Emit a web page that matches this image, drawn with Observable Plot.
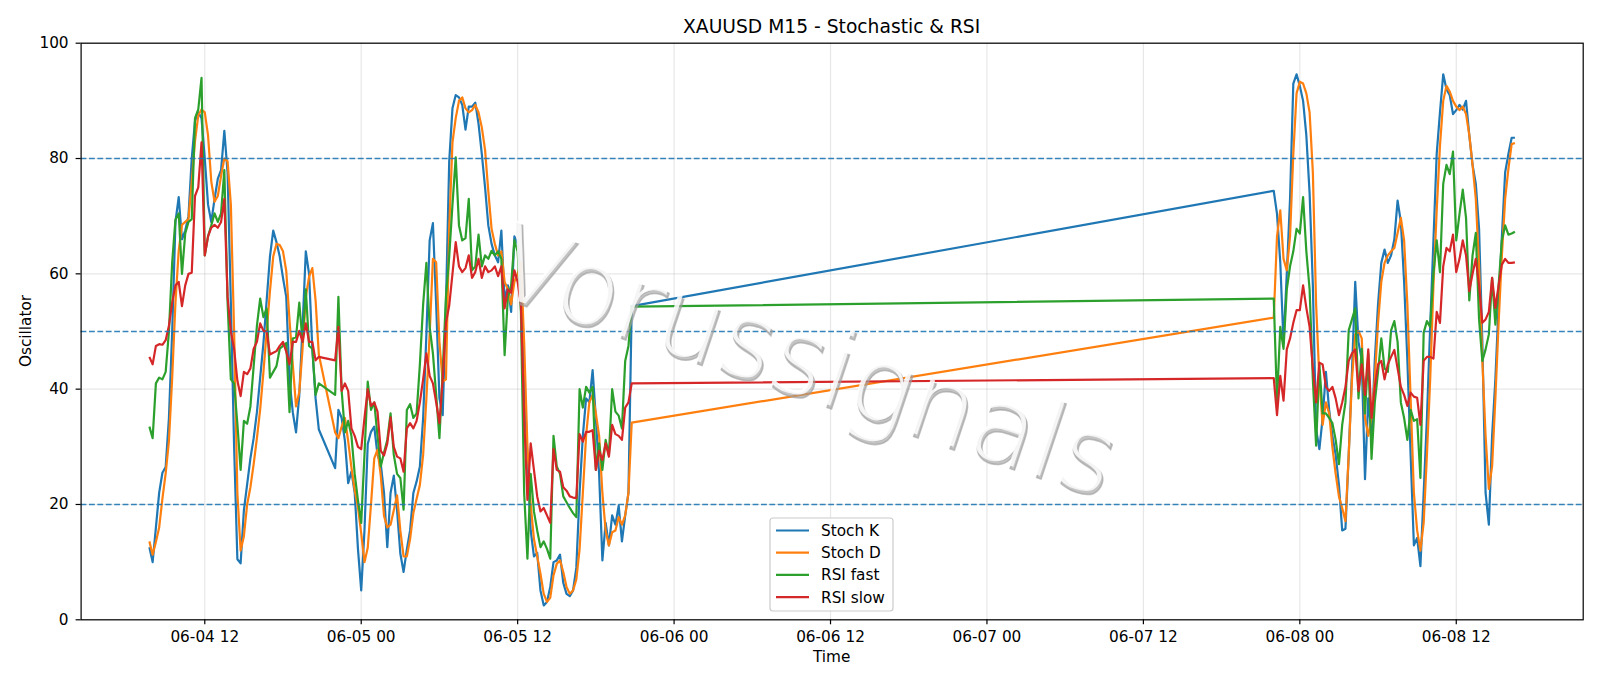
<!DOCTYPE html>
<html>
<head>
<meta charset="utf-8">
<script src="https://cdn.jsdelivr.net/npm/d3@7"></script>
<script src="https://cdn.jsdelivr.net/npm/@observablehq/plot@0.6"></script>
<style>
  html, body { margin: 0; padding: 0; background: #ffffff; }
  #chart { width: 1600px; height: 686px; }
  #chart svg { display: block; }
</style>
</head>
<body>
<div id="chart"></div>
<script>
// ---------- DATA ----------
const chartTitle = "XAUUSD M15 - Stochastic & RSI";
const xLabel = "Time";
const yLabel = "Oscillator";
const watermarkText = "Vorussignals";

const seriesNames = ["Stoch K", "Stoch D", "RSI fast", "RSI slow"];
const seriesColors = ["#1f77b4", "#ff7f0e", "#2ca02c", "#d62728"];

// M15 bars: three runs of consecutive 15-minute bars (UTC)
const segmentStarts = ["2025-06-04T07:45:00Z", "2025-06-04T22:00:00Z", "2025-06-07T22:00:00Z"];
const segmentCounts = [53, 92, 75];

const stochK = [
  // run 1
  12.6,10,16,22,25.5,26.5,35,50,69,73.3, 66,67.5,70,80,86.5,88,87,80,72,69,
  73,76.5,78,84.8,77.5,55,30,10.5,9.8,19, 23.5,28,31.5,36,42,48,55.5,63,67.5,65.5,
  63,59.3,56,41.7,36,32.5,39,50.8,63.9,60, 47,38.4,33,
  // run 2
  26.3,36.4,35,31,23.7,25.7,22,12.3,5.1,15.5, 30.5,32.6,33.5,28.6,27,22,12.6,22,25,19,
  11.5,8.3,12.2,15.5,22,24,26.6,35,49.5,65.8, 68.8,54.7,38.4,35.5,54.7,79.5,88.7,91,90.6,89.3,
  85,89,89,89.7,86,80.8,75,68.4,65.2,63.2, 62,67.5,55.4,58,53.4,66.5,65.2,60,41.7,28.6,
  15.5,11,11.6,5.1,2.5,3.1,5.7,10,10.3,11.3, 6.4,4.5,4.1,5.1,9,22,31.9,38.4,37.7,43.3,
  35,25.3,10.3,16.8,12.9,18.1,16.5,19.8,13.6,18.1, 22,54.4,
  // run 3
  74.4,70.4,62,48,60,73,93,94.6,92.6,90, 84,74,58,33,29.6,35,43,36.4,31.9,28.6,
  23.4,15.5,15.8,28.6,43,58.6,48.2,45,24.4,38.4, 31.9,45,54.7,61.9,64.2,61.9,63.2,66,72.7,69,
  58.6,45,28.6,12.9,14.2,9.3,22,35,50.8,65.8, 80.8,88,94.6,92,91,87.7,88.4,89.3,88.5,90,
  84,78.9,75.6,67.8,48.2,22,16.5,31.9,41.7,54.7, 66.5,77.6,80.8,83.6,83.6
];

const stochD = [
  // run 1
  13.6,11.3,13.5,16,21,25.4,31,42,55,64, 68.5,69,69.5,76,83,87.5,88.5,88,84,76,
  72.5,73.5,77,80,79.5,72,50,22,12,14.5, 20,23,27,31.5,36.5,43,50,57,63,65.2,
  65,63.9,60.5,52,44.3,37,39.5,47,56,59.5, 61,55.4,46,
  // run 2
  32.5,31.5,33.5,35,31,26.4,22.5,19.5,15,10, 12.5,20,28,29.5,25,18,16,16.5,19,21.6,
  15.5,11,11,14,18.5,21,23.4,28.6,38.4,49.5, 62.6,62,48.2,41.3,41.7,67.8,82.8,87,90,90.6,
  88.7,88,88.4,89.3,88,85.4,81.5,74.3,67.8,65.2, 63.2,63.9,58.6,57.3,54.7,58.6,60,62,48,30,
  20,14,11,8,4.5,3.1,3.8,7.7,9.7,10.3, 8.3,5.7,4.5,5.1,7,12.2,22,31.9,37.7,39,
  35.8,31.9,22,15.5,12.9,15.2,15.5,17.8,16.5,18.1, 22,34.2,
  // run 3
  52.4,66.5,71,62.6,60.6,66.5,80.8,91.3,93.3,93, 91.3,88,77.6,54.7,41.7,33.8,37.7,35.8,29.9,25.3,
  21.4,19.4,17.1,28.6,41.7,49.5,50.1,48.8,35,31.9, 35,41.7,51.5,58.6,61.9,63.2,63.9,64.5,67.1,69.7,
  65.8,54.7,38.4,22,15.5,12,16.8,28.6,41.7,58, 71,82.2,90,92.6,91.6,90,89,88.4,89,87.7,
  84.1,78.9,73,61.3,45,31.9,22.7,26.6,38.4,51.5, 63.2,73,78.2,82.5,82.7
];

const rsiFast = [
  // run 1
  33.5,31.5,41,42,41.7,43,50,62,69.4,70.5, 60,67,69,69.5,87,88.5,94,63.2,66.5,68.4,
  70.5,69,70.5,78,55,41.7,41,34,26,34.5, 34,37,44,51,55.7,52.5,54,42,43,44,
  47,47.5,48,36,48.8,49,55,48.2,57.3,47.5, 47,39,41,
  // run 2
  39,56,39.7,32.5,34.5,31.9,25.3,20.7,16.8,28.6, 41.3,36.4,37.7,31.9,26.6,29,31.2,35.8,28.6,25.3,
  24.6,19.1,36.4,37.4,35,35.8,44.3,54.7,61.9,50.8, 46.2,39,31.5,43,56,63,72,80.2,68.4,65.8,
  66.2,73,60.6,61.3,66.8,61.3,63.2,62.6,64,63.2, 63.9,62.6,45.9,56,58,65.8,63.9,53.4,22,10.6,
  25.3,18.8,15.5,12.6,13.6,12.3,10.6,31.9,26.6,25.3, 21.4,20.4,19.4,18.5,17.8,40,36.8,40.4,39.4,40.4,
  26,30.6,26,31.2,28.6,40,36.1,35.4,33.2,44.9, 47.5,54.3,
  // run 3
  55.7,38,50.8,47,57.3,61.3,63.9,67.8,67,73.3, 63.9,57.3,41.7,30.2,44.3,35.8,35.8,35,34.1,31.2,
  27,33.8,37.7,50.2,52.1,54,38.4,47,35.8,46.2, 27.9,37.7,43,48.8,43.6,43,50.2,51.8,48.2,37.7,
  35,31.2,36.4,34.5,34.8,24.6,49.8,51.8,50.8,60, 65.8,60.3,75.6,78.9,77.3,81.2,65.8,70.4,74.6,69.7,
  55.4,63.2,67.1,52.1,44.9,46.9,49.5,59.3,51.2,58, 65.8,68.4,66.8,67,67.3
];

const rsiSlow = [
  // run 1
  45.6,44.3,47.5,47.8,47.7,48.5,51,55,58,58.6, 54.4,58,60,60.2,73.5,75,82.8,63.2,66.5,68,
  68.5,68,69,73,56,50,47,41.5,38.8,43, 42.6,43.6,47,48.2,51.4,50.1,50,46,46.3,46.6,
  47.5,48.2,46.5,44.3,48.2,48.2,50.1,48.2,51.4,48.2, 48.2,45,45.6,
  // run 2
  45,50.8,39.7,41,39.7,33.2,31.9,30,29.6,35, 40,37.1,37.7,36.1,29.3,28.5,30.6,35.1,30,28.3,
  28,25.7,33.2,34.1,33.2,34.5,37.7,41.7,46.2,42.3, 41,37.7,34.1,41.7,51.5,54.5,60,65.5,61.3,60.3,
  61,63.2,59.3,60.3,62.6,59.3,61.3,60.3,60.6,61.3, 59.6,61.3,54,57.3,56.7,60.6,58.6,54.7,35,20.8,
  30.6,26,21.4,18.8,19.4,18.1,16.8,29.6,26,25.7, 23,22.4,21.4,21.2,21.1,32.2,30.9,32.6,32.6,32.9,
  26,29.3,27.7,30.6,28.3,33.8,32.2,31.9,31.2,36.8, 37.7,41,
  // run 3
  41.9,35.5,42.3,38,46.9,48.8,51.5,53.7,53.7,58, 54.1,50.8,43.6,37.7,44.6,44.3,40.4,39.7,40.4,38.4,
  35.5,37.7,40.4,44.9,46.2,46.9,39.7,44.3,39,46.9, 35,40.4,44.3,44.9,41.7,44.3,45.6,46.8,43.6,40.4,
  39,37.1,39.4,38.7,38.5,33.8,44.9,45.6,45.6,45.3, 53.4,51.5,61.3,64.5,63.9,66.8,60.3,62.6,65.8,63.2,
  57,60,62.6,58,51.5,52.1,53.4,59.3,54.1,58, 61.6,62.6,61.9,61.9,62
];

const referenceLevels = [20, 50, 80];
const yTicks = [0, 20, 40, 60, 80, 100];

// ---------- BUILD TABLE ----------
const times = [];
segmentStarts.forEach((s, i) => {
  const t0 = new Date(s).getTime();
  for (let k = 0; k < segmentCounts[i]; k++) times.push(new Date(t0 + k * 15 * 60000));
});
const seriesValues = [stochK, stochD, rsiFast, rsiSlow];
const rows = [];
seriesValues.forEach((vals, si) => {
  vals.forEach((v, i) => rows.push({ series: seriesNames[si], time: times[i], value: v }));
});

const tMin = d3.min(times), tMax = d3.max(times);
const pad = (tMax - tMin) * 0.05;
const xDomain = [new Date(+tMin - pad), new Date(+tMax + pad)];
const xTicks = d3.utcHour.every(12).range(xDomain[0], xDomain[1]);

const W = 1600, H = 686;
const mL = 80.6, mR = 17.3, mT = 42.7, mB = 66.7;
const FONT = "DejaVu Sans, Liberation Sans, sans-serif";
const gridColor = "#b0b0b0";

const chart = Plot.plot({
  width: W,
  height: H,
  marginLeft: mL,
  marginRight: mR,
  marginTop: mT,
  marginBottom: mB,
  style: { fontFamily: FONT, fontSize: "15.3px", background: "#ffffff", color: "#000000", overflow: "visible" },
  x: { type: "utc", domain: xDomain },
  y: { domain: [0, 100] },
  color: { domain: seriesNames, range: seriesColors },
  marks: [
    Plot.gridX(xTicks, { stroke: gridColor, strokeOpacity: 0.3, strokeWidth: 1.2 }),
    Plot.gridY(yTicks, { stroke: gridColor, strokeOpacity: 0.3, strokeWidth: 1.2 }),
    Plot.line(rows, { x: "time", y: "value", z: "series", stroke: "series", strokeWidth: 2.2, strokeLinejoin: "round", strokeLinecap: "butt" }),
    Plot.ruleY(referenceLevels, { stroke: "#1f77b4", strokeWidth: 1.5, strokeDasharray: "5.8,2.6", strokeOpacity: 0.9 }),
    Plot.frame({ stroke: "#000000", strokeWidth: 1.2 }),
    Plot.axisX(xTicks, { tickFormat: d3.utcFormat("%m-%d %H"), tickSize: 5, tickPadding: 6, label: null, fontSize: 15.3, strokeWidth: 1.2 }),
    Plot.axisY(yTicks, { tickSize: 5, tickPadding: 7.5, label: null, fontSize: 15.3, strokeWidth: 1.2 })
  ]
});

document.getElementById("chart").appendChild(chart);

// ---------- TEXT DECORATIONS ----------
const svg = d3.select(chart);
const cx = mL + (W - mL - mR) / 2;
const cy = mT + (H - mT - mB) / 2;

// Watermark (drawn over the lines, under the legend)
const wm = svg.append("g").attr("transform", "translate(796,394) rotate(18.5)");
wm.append("text")
  .attr("x", 2.2).attr("y", 2.8)
  .attr("text-anchor", "middle")
  .attr("font-family", FONT).attr("font-size", 104).attr("font-weight", 200)
  .attr("fill", "#9c9c9c").attr("fill-opacity", 0.6)
  .attr("stroke", "#9c9c9c").attr("stroke-opacity", 0.6).attr("stroke-width", 1.6)
  .text(watermarkText);
wm.append("text")
  .attr("x", 0).attr("y", 0)
  .attr("text-anchor", "middle")
  .attr("font-family", FONT).attr("font-size", 104).attr("font-weight", 200)
  .attr("fill", "#ffffff").attr("fill-opacity", 0.85)
  .text(watermarkText);

svg.append("text")
  .attr("x", cx).attr("y", 33)
  .attr("text-anchor", "middle")
  .attr("font-family", FONT).attr("font-size", 18.7)
  .attr("fill", "#000")
  .text(chartTitle);

svg.append("text")
  .attr("x", cx).attr("y", 661.5)
  .attr("text-anchor", "middle")
  .attr("font-family", FONT).attr("font-size", 15.3)
  .attr("fill", "#000")
  .text(xLabel);

svg.append("text")
  .attr("transform", `translate(25,${cy}) rotate(-90)`)
  .attr("text-anchor", "middle")
  .attr("dy", "0.36em")
  .attr("font-family", FONT).attr("font-size", 15.3)
  .attr("fill", "#000")
  .text(yLabel);

// Legend
const lg = svg.append("g");
lg.append("rect")
  .attr("x", 770).attr("y", 518).attr("width", 123).attr("height", 93)
  .attr("rx", 3).attr("fill", "#ffffff").attr("fill-opacity", 0.8)
  .attr("stroke", "#cccccc").attr("stroke-width", 1.2);
seriesNames.forEach((name, i) => {
  const yy = 530.5 + i * 22.2;
  lg.append("line")
    .attr("x1", 776).attr("x2", 809).attr("y1", yy).attr("y2", yy)
    .attr("stroke", seriesColors[i]).attr("stroke-width", 2.2);
  lg.append("text")
    .attr("x", 821).attr("y", yy).attr("dy", "0.36em")
    .attr("text-anchor", "start")
    .attr("font-family", FONT).attr("font-size", 15.3)
    .attr("fill", "#000")
    .text(name);
});
</script>
</body>
</html>
